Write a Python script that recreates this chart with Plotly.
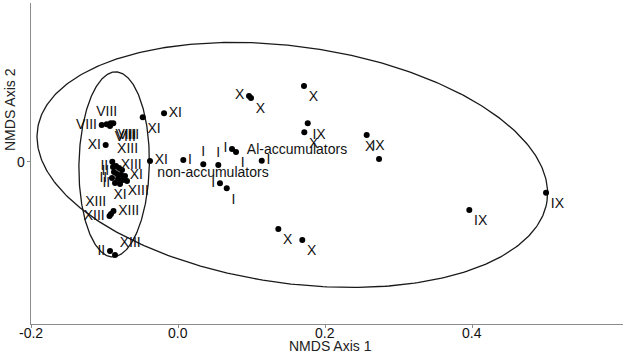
import numpy as np
import plotly.graph_objects as go

# ---- data (NMDS scores) ----
pt_x = [-0.0480, -0.0190, -0.0984, -0.0381,
        -0.1038, -0.0970, -0.0916, -0.0880, -0.0925,
        -0.0894, -0.0932, -0.0912, -0.0878, -0.0857, -0.0925,
        -0.0884, -0.0844, -0.0803, -0.0762, -0.0871, -0.0830, -0.0776, -0.0721,
        -0.0898, -0.0816, -0.0748, -0.0694, -0.0857, -0.0789,
        0.0966, 0.0993, 0.1714, 0.1718, 0.2735, 0.1365, 0.1691,
        0.1765, 0.2567, 0.3963, 0.5007,
        0.0072, 0.0344, 0.0548, 0.0735, 0.0789, 0.1139, 0.0571, 0.0663]
pt_y = [0.0608, 0.0663, 0.0231, 0.0014,
        0.0503, 0.0513, 0.0527, 0.0527, 0.0490,
        0.0004, -0.0735, -0.0707, -0.0667, -0.1265, -0.1211,
        -0.0068, -0.0054, -0.0082, -0.0109, -0.0136, -0.0163, -0.0177, -0.0190,
        -0.0218, -0.0231, -0.0245, -0.0259, -0.0286, -0.0299,
        0.0898, 0.0871, 0.1034, 0.0404, 0.0041, -0.0912, -0.1061,
        0.0527, 0.0367, -0.0653, -0.0418,
        0.0027, -0.0031, -0.0041, 0.0177, 0.0136, 0.0018, -0.0290, -0.0358]
pt_label = ["XI", "XI", "XI", "XI",
            "VIII", "VIII", "VIII", "VIII", "VIII",
            "XIII", "XIII", "XIII", "XIII", "XIII", "II",
            "II", "XIII", "", "", "II", "", "", "XI",
            "II", "", "XIII", "", "II", "XI",
            "X", "X", "X", "X", "X", "X", "X",
            "IX", "IX", "IX", "IX",
            "I", "I", "I", "I", "I", "I", "I", "I"]
pt_pos = ["bottom right", "middle right", "middle left", "middle right",
          "middle left", "top center", "bottom right", "bottom right", "bottom right",
          "top right", "middle left", "top left", "middle right", "top right", "middle left",
          "middle left", "middle right", "middle right", "middle right", "middle left", "middle right", "middle right", "middle right",
          "middle left", "middle right", "bottom right", "middle right", "middle left", "bottom center",
          "middle left", "bottom right", "bottom right", "bottom right", "top left", "bottom right", "bottom right",
          "bottom right", "bottom right", "bottom right", "bottom right",
          "middle right", "top center", "top center", "middle left", "bottom right", "middle right", "middle left", "bottom right"]

group_names = ["Al-accumulators", "non-accumulators"]
group_x = [0.1619, 0.0476]
group_y = [0.0150, -0.0150]

# group ellipses: centre x, centre y, semi-axis a, semi-axis b, rotation (deg)
ellipse_al = [0.1555, -0.0040, 0.3500, 0.1610, -8.0]
ellipse_non = [-0.0869, -0.0032, 0.0479, 0.1259, -1.07]

x_ticks = [-0.2, 0.0, 0.2, 0.4]
x_tick_text = ["-0.2", "0.0", "0.2", "0.4"]
y_ticks = [0.0]
y_tick_text = ["0"]

FONT = "Arial, Liberation Sans"
X_RANGE = [-0.2, 0.6054]
Y_RANGE = [-0.2204, 0.2163]


def ell(cx, cy, a, b, ang):
    t = np.linspace(0, 2 * np.pi, 400)
    th = np.radians(ang)
    ex = cx + a * np.cos(t) * np.cos(th) - b * np.sin(t) * np.sin(th)
    ey = cy + a * np.cos(t) * np.sin(th) + b * np.sin(t) * np.cos(th)
    return ex, ey


fig = go.Figure()
for p in (ellipse_al, ellipse_non):
    ex, ey = ell(*p)
    fig.add_trace(go.Scatter(x=ex, y=ey, mode="lines", line=dict(color="#1a1a1a", width=1.3),
                             hoverinfo="skip", showlegend=False))
fig.add_trace(go.Scatter(x=pt_x, y=pt_y, mode="markers+text", text=pt_label, textposition=pt_pos,
                         marker=dict(color="black", size=6),
                         textfont=dict(family=FONT, size=14, color="#111"),
                         showlegend=False))
fig.add_trace(go.Scatter(x=group_x, y=group_y, mode="text", text=group_names,
                         textfont=dict(family=FONT, size=14, color="#111"),
                         showlegend=False))

# tick labels placed close to the axis lines
for v, t in zip(x_ticks, x_tick_text):
    fig.add_annotation(text=t, x=v, xref="x", yref="paper", y=(324 - 333) / 321,
                       showarrow=False, yanchor="middle", xanchor="center",
                       font=dict(family=FONT, size=14, color="#111"))
for v, t in zip(y_ticks, y_tick_text):
    fig.add_annotation(text=t, y=v, yref="y", xref="paper", x=(21 - 31) / 592,
                       showarrow=False, yanchor="middle", xanchor="center",
                       font=dict(family=FONT, size=14, color="#111"))

fig.add_annotation(text="NMDS Axis 1", xref="paper", yref="paper", x=(330 - 31) / 592,
                   y=(324 - 346) / 321, showarrow=False, yanchor="middle",
                   font=dict(family=FONT, size=14, color="#222"))
fig.add_annotation(text="NMDS Axis 2", xref="paper", yref="paper", x=(10 - 31) / 592,
                   y=(324 - 110) / 321, showarrow=False, textangle=-90, xanchor="center",
                   yanchor="middle", font=dict(family=FONT, size=14, color="#222"))

fig.update_layout(
    width=623, height=358, margin=dict(l=31, r=0, t=3, b=34),
    plot_bgcolor="white", paper_bgcolor="white",
    xaxis=dict(range=X_RANGE, showline=True, linecolor="#8c8c8c", linewidth=1.3,
               tickvals=x_ticks, showticklabels=False,
               ticks="outside", ticklen=3, tickcolor="#8c8c8c", showgrid=False, zeroline=False),
    yaxis=dict(range=Y_RANGE, showline=True, linecolor="#8c8c8c", linewidth=1.3,
               tickvals=y_ticks, showticklabels=False, ticks="outside", ticklen=3,
               tickcolor="#8c8c8c", showgrid=False, zeroline=False),
)
fig.write_html("out.html")
